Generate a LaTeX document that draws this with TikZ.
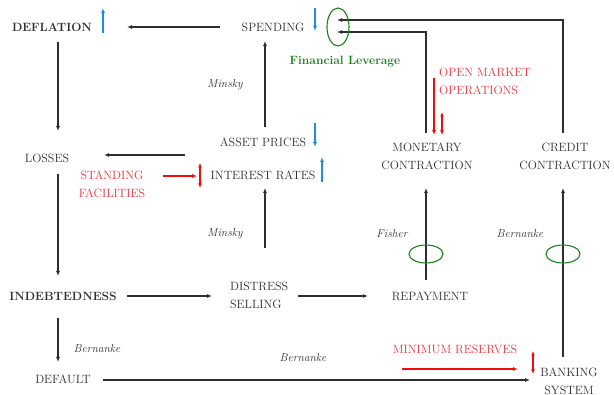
\documentclass[tikz,border=0pt]{standalone}
\usetikzlibrary{arrows.meta}
\definecolor{txt}{rgb}{0.18,0.18,0.18}
\definecolor{myred}{rgb}{0.92,0.2,0.25}
\definecolor{arred}{rgb}{0.95,0.05,0.05}
\definecolor{myblue}{rgb}{0.12,0.55,0.92}
\definecolor{mygreen}{rgb}{0.1,0.5,0.1}
\begin{document}
\begin{tikzpicture}[x=1pt,y=-1pt,
  font=\fontsize{12}{18}\selectfont,
  every node/.style={text=txt, inner sep=0pt},
  arr/.style={-{Latex[length=5pt,width=4pt]}, line width=1.1pt, draw=txt},
  bluarr/.style={-{Latex[length=5pt,width=4pt]}, line width=1.3pt, draw=myblue},
  redarr/.style={-{Latex[length=5pt,width=4pt]}, line width=1.1pt, draw=arred},
  reddbl/.style={{Latex[length=4.5pt,width=4pt]}-{Latex[length=4.5pt,width=4pt]}, line width=1.1pt, draw=arred},
  ring/.style={draw=mygreen, line width=1.1pt},
  redtxt/.style={text=myred},
  lbl/.style={font=\fontsize{11.5}{13}\selectfont\itshape}]
\useasboundingbox (0,0) rectangle (614,395);

% nodes
\node (defl) at (52,27) {\textbf{DEFLATION}};
\node (spend) at (273,27) {SPENDING};
\node (lev) at (345,62) {\textcolor{mygreen}{\textbf{Financial Leverage}}};
\node[redtxt, align=left, anchor=west] (omo) at (439,81) {OPEN MARKET\\OPERATIONS};
\node (asset) at (263,142) {ASSET PRICES};
\node (ir) at (263,175) {INTEREST RATES};
\node (loss) at (47,158) {LOSSES};
\node[redtxt, align=center] (sf) at (112,184) {STANDING\\FACILITIES};
\node[align=center] (mon) at (427,156) {MONETARY\\CONTRACTION};
\node[align=center] (cred) at (565,156) {CREDIT\\CONTRACTION};
\node (indebt) at (63,296) {\textbf{INDEBTEDNESS}};
\node[align=left, anchor=west] (dist) at (230,295) {DISTRESS\\SELLING};
\node (repay) at (430,296) {REPAYMENT};
\node (def) at (63,379) {DEFAULT};
\node[redtxt] (minres) at (455,349) {MINIMUM RESERVES};
\node[align=center] (bank) at (569,381) {BANKING\\SYSTEM};

% labels
\node[lbl] (m1) at (225,85) {Minsky};
\node[lbl] (m2) at (225,234) {Minsky};
\node[lbl] (fi) at (392,234) {Fisher};
\node[lbl] (b1) at (520,234) {Bernanke};
\node[lbl] (b2) at (97,349) {Bernanke};
\node[lbl] (b3) at (303,358) {Bernanke};

% connector end points
\coordinate (spendW) at (220,27);
\coordinate (deflE) at (127,27);
\coordinate (deflS) at (58,42);
\coordinate (lossN) at (58,131);
\coordinate (lossS) at (58,174);
\coordinate (indN) at (58,276);
\coordinate (indS) at (58,318);
\coordinate (defN) at (58,362);
\coordinate (indE) at (127,296);
\coordinate (distW) at (212,296);
\coordinate (distE) at (298,296);
\coordinate (repW) at (368,296);
\coordinate (distN) at (265,248);
\coordinate (irS) at (265,188);
\coordinate (irN) at (265,127);
\coordinate (spendS) at (265,41);
\coordinate (assetW) at (185,155);
\coordinate (lossE) at (104,155);
\coordinate (repN) at (426,280);
\coordinate (monS) at (426,188);
\coordinate (monN) at (426,133);
\coordinate (bankN) at (563,357);
\coordinate (credS) at (563,188);
\coordinate (credN) at (563,133);
\coordinate (levA) at (337,20);
\coordinate (levB) at (337,32);
\coordinate (defE) at (103,380);
\coordinate (bankW) at (530,380);

% black connectors
\draw[arr] (spendW) -- (deflE);
\draw[arr] (deflS) -- (lossN);
\draw[arr] (lossS) -- (indN);
\draw[arr] (indS) -- (defN);
\draw[arr] (indE) -- (distW);
\draw[arr] (distE) -- (repW);
\draw[arr] (distN) -- (irS);
\draw[arr] (irN) -- (spendS);
\draw[arr] (assetW) -- (lossE);
\draw[arr] (repN) -- (monS);
\draw[arr] (bankN) -- (credS);
\draw[arr] (credN) |- (levA);
\draw[arr] (monN) |- (levB);
\draw[arr] (defE) -- (bankW);

% green rings
\draw[ring] (338,27) ellipse (11 and 19);
\draw[ring] (426,254) ellipse (17 and 9);
\draw[ring] (563,254) ellipse (17 and 9);

% blue indicator arrows
\draw[bluarr] (103,33) -- (103,8);
\draw[bluarr] (315,8) -- (315,31);
\draw[bluarr] (315,123) -- (315,147);
\draw[bluarr] (322,182) -- (322,157);

% red policy arrows
\draw[redarr] (434,78) -- (434,135);
\draw[reddbl] (442,112) -- (442,135);
\draw[redarr] (163,176) -- (197,176);
\draw[reddbl] (200,163) -- (200,188);
\draw[redarr] (402,369) -- (518,369);
\draw[reddbl] (533,351) -- (533,374);
\end{tikzpicture}
\end{document}
